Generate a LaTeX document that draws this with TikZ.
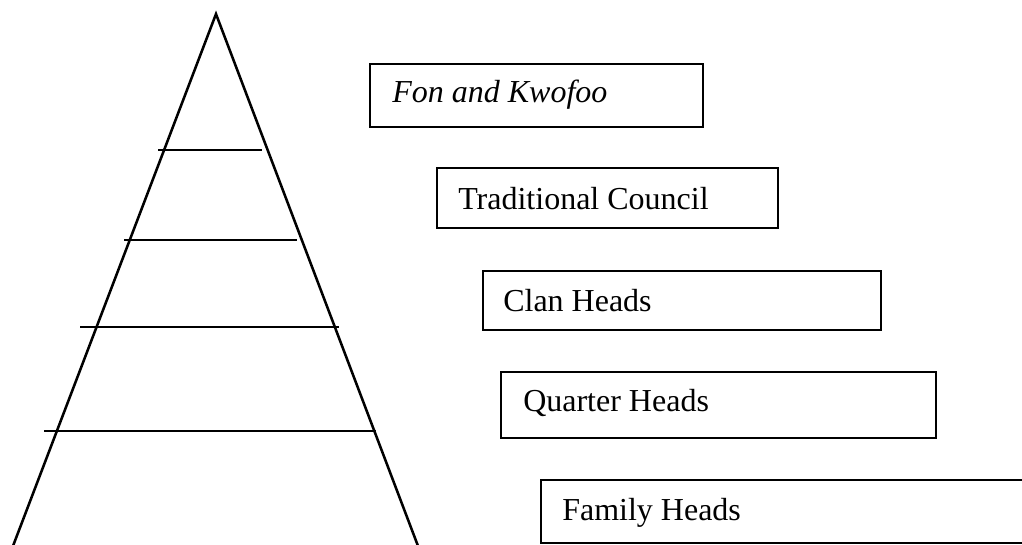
\documentclass[tikz,border=0pt]{standalone}
\usepackage{fontspec}
\setmainfont{Liberation Serif}
\begin{document}
\begin{tikzpicture}[x=0.75pt,y=-0.75pt,
  side/.style={line width=1.9pt,line join=miter},
  tier/.style={line width=1.1pt},
  boxline/.style={line width=1.9pt},
  lbl/.style={inner sep=0pt,anchor=base west,font=\fontsize{24pt}{28pt}\selectfont}]
\useasboundingbox (0,0) rectangle (1022,545);
\clip (0,0) rectangle (1022,545);
% pyramid
\coordinate (apex) at (216,14);
\coordinate (bl) at (13,546);
\coordinate (br) at (418,546);
\draw[side] (bl) -- (apex) -- (br);
\draw[tier] (158,150) -- (262,150);
\draw[tier] (124,240) -- (297,240);
\draw[tier] (80,327) -- (339,327);
\draw[tier] (44,431) -- (376,431);
% boxes
\draw[boxline] (370,64) rectangle (703,127);
\node[lbl] (t1) at (392,103) {\itshape Fon and Kwofoo};
\draw[boxline] (437,168) rectangle (778,228);
\node[lbl] (t2) at (458,210) {Traditional Council};
\draw[boxline] (483,271) rectangle (881,330);
\node[lbl] (t3) at (503,312) {Clan Heads};
\draw[boxline] (501,372) rectangle (936,438);
\node[lbl] (t4) at (523,412) {Quarter Heads};
\draw[boxline] (1030,480) -- (541,480) -- (541,543) -- (1030,543);
\node[lbl] (t5) at (562,520) {Family Heads};
\end{tikzpicture}
\end{document}
